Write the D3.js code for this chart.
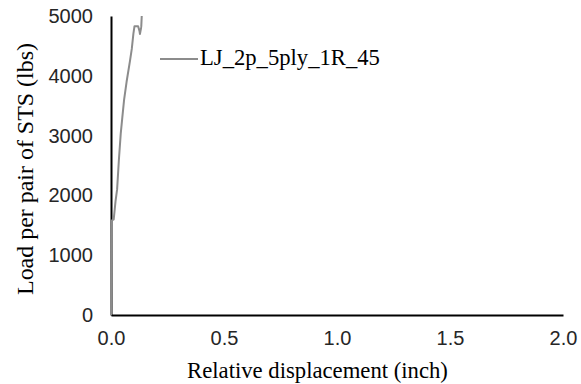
<!DOCTYPE html>
<html><head><meta charset="utf-8">
<script src="https://cdn.jsdelivr.net/npm/d3@7"></script>
<style>body{margin:0;background:#fff}</style>
</head><body>
<svg id="c" width="581" height="384"></svg>
<script>
const seriesName = "LJ_2p_5ply_1R_45";
const displacement = [0, 0.002, 0.004, 0.003, 0.012, 0.020, 0.027, 0.035, 0.043, 0.050, 0.058, 0.069, 0.084, 0.092, 0.099, 0.104, 0.112, 0.120, 0.126, 0.128, 0.133, 0.134, 0.136];
const load = [0, 800, 1550, 1580, 1600, 1900, 2100, 2600, 3030, 3300, 3600, 3900, 4250, 4450, 4700, 4830, 4830, 4830, 4750, 4700, 4800, 4830, 5000];
const xTicks = [0, 0.5, 1.0, 1.5, 2.0];
const yTicks = [0, 1000, 2000, 3000, 4000, 5000];

const svg = d3.select("#c");
const x = d3.scaleLinear().domain([0, 2]).range([111, 563]);
const y = d3.scaleLinear().domain([0, 5000]).range([315, 16]);
const tickFont = "Arial, Liberation Sans, sans-serif";
const serif = "Liberation Serif, Times New Roman, serif";

svg.append("g").attr("transform", "translate(0,315)")
  .call(d3.axisBottom(x).tickValues(xTicks).tickFormat(d3.format(".1f")).tickSize(0).tickPadding(16))
  .call(g => g.select(".domain").attr("stroke", "#000").attr("stroke-width", 2))
  .call(g => g.selectAll("text").attr("font-family", tickFont).attr("font-size", 20).attr("fill", "#262626"));

svg.append("g").attr("transform", "translate(111,0)")
  .call(d3.axisLeft(y).tickValues(yTicks).tickFormat(d3.format("d")).tickSize(0).tickPadding(18))
  .call(g => g.select(".domain").attr("stroke", "#000").attr("stroke-width", 2))
  .call(g => g.selectAll("text").attr("font-family", tickFont).attr("font-size", 20).attr("fill", "#262626"));

const pts = displacement.map((d, i) => [d, load[i]]);
svg.append("path").datum(pts)
  .attr("fill", "none").attr("stroke", "#8c8c8c").attr("stroke-width", 2).attr("stroke-linejoin", "round")
  .attr("d", d3.line().x(d => x(d[0])).y(d => y(d[1])));

function fit(sel, width) {
  const w = sel.node().getComputedTextLength();
  const fs = parseFloat(sel.attr("font-size"));
  sel.attr("font-size", fs * width / w);
}

svg.append("line").attr("x1", 160).attr("x2", 198).attr("y1", 59).attr("y2", 59)
  .attr("stroke", "#8c8c8c").attr("stroke-width", 2);
const leg = svg.append("text").attr("x", 200).attr("y", 65).text(seriesName)
  .attr("font-family", serif).attr("font-size", 20).attr("fill", "#000");
fit(leg, 180);

const xt = svg.append("text").attr("x", 317.5).attr("y", 378).attr("text-anchor", "middle")
  .text("Relative displacement (inch)")
  .attr("font-family", serif).attr("font-size", 20).attr("fill", "#000");
fit(xt, 261);
const yt = svg.append("text").attr("transform", "translate(33,169) rotate(-90)").attr("text-anchor", "middle")
  .text("Load per pair of STS (lbs)")
  .attr("font-family", serif).attr("font-size", 20).attr("fill", "#000");
fit(yt, 252);
</script>
</body></html>
